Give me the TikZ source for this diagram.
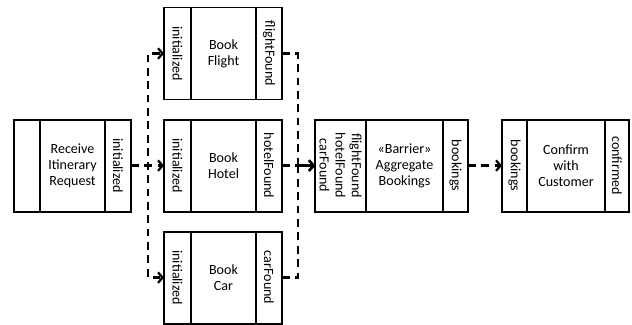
\documentclass[tikz,border=0pt]{standalone}
\usepackage{fontspec}
\setmainfont{Carlito}
\usetikzlibrary{arrows.meta}

\begin{document}
\begin{tikzpicture}[
  font=\fontsize{10}{11.5}\selectfont,
  act/.style={draw=black, line width=1.3pt, minimum height=2.3cm, align=center, inner sep=0pt, outer sep=0pt},
  pinbox/.style={draw=black, line width=1.3pt, rotate=-90, minimum width=2.3cm, align=center, inner sep=0pt, outer sep=0pt},
  pinL/.style={pinbox, anchor=north, minimum height=#1},
  pinR/.style={pinbox, anchor=south, minimum height=#1},
  flow/.style={line width=1.6pt, dash pattern=on 5.5pt off 4pt, -{Straight Barb[length=3.2pt,width=7.5pt]}}
]
  \useasboundingbox (0,0) rectangle (15.8,8.1);

  % Receive
  \node[act, minimum width=1.625cm] (rcv) at (1.8125,3.96) {Receive\\Itinerary\\Request};
  \node[pinL=0.65cm] (rcvB) at (rcv.west) {};
  \node[pinR=0.65cm] (rcvO) at (rcv.east) {initialized};

  % Bookings
  \node[act, minimum width=1.625cm] (fl) at (5.5875,6.7625) {Book\\Flight};
  \node[pinL=0.675cm] (flIn) at (fl.west) {initialized};
  \node[pinR=0.65cm] (flO) at (fl.east) {flightFound};

  \node[act, minimum width=1.625cm] (ht) at (5.5875,3.96) {Book\\Hotel};
  \node[pinL=0.675cm] (htIn) at (ht.west) {initialized};
  \node[pinR=0.65cm] (htO) at (ht.east) {hotelFound};

  \node[act, minimum width=1.625cm] (car) at (5.5875,1.16) {Book\\Car};
  \node[pinL=0.675cm] (carIn) at (car.west) {initialized};
  \node[pinR=0.65cm] (carO) at (car.east) {carFound};

  % Barrier
  \node[act, minimum width=1.925cm] (agg) at (10.1125,3.96) {«Barrier»\\Aggregate\\Bookings};
  \node[pinL=1.275cm] (aggIn) at (agg.west) {flightFound\\hotelFound\\carFound};
  \node[pinR=0.625cm] (aggO) at (agg.east) {bookings};

  % Confirm
  \node[act, minimum width=1.95cm] (cf) at (14.15,3.96) {Confirm\\with\\Customer};
  \node[pinL=0.625cm] (cfIn) at (cf.west) {bookings};
  \node[pinR=0.6cm] (cfO) at (cf.east) {confirmed};

  % Flows
  \draw[flow] (rcvO.north) -- ++(0.425,0) |- (flIn.south);
  \draw[flow] (rcvO.north) -- (htIn.south);
  \draw[flow] (rcvO.north) -- ++(0.425,0) |- (carIn.south);
  \draw[flow] (flO.north) -- ++(0.4,0) |- (aggIn.south);
  \draw[flow] (htO.north) -- (aggIn.south);
  \draw[flow] (carO.north) -- ++(0.4,0) |- (aggIn.south);
  \draw[flow] (aggO.north) -- (cfIn.south);
\end{tikzpicture}
\end{document}
